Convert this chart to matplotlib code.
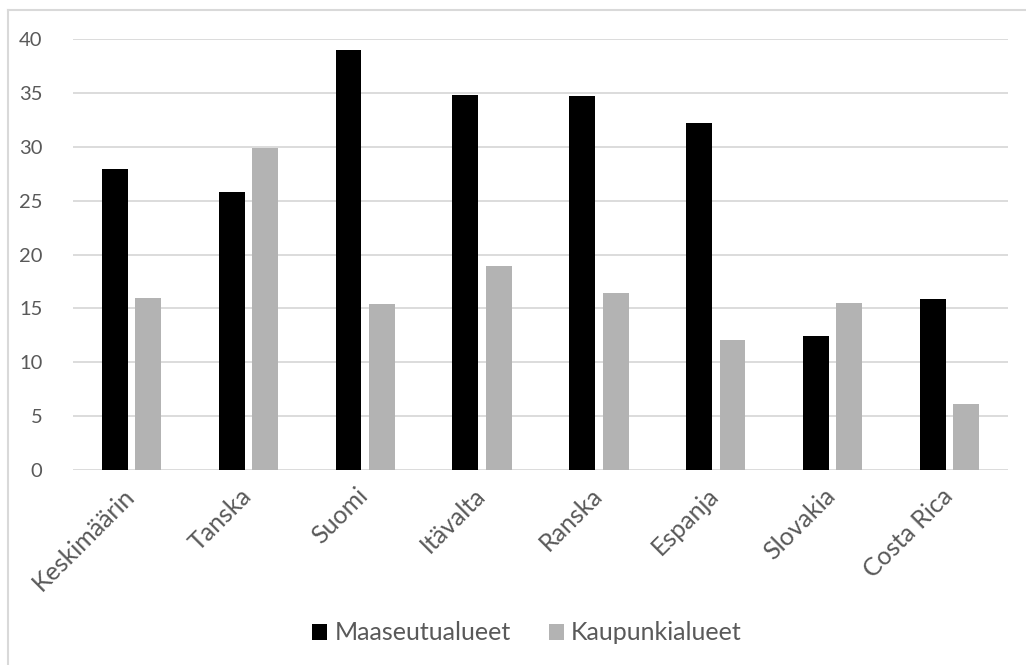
import numpy as np
import matplotlib
matplotlib.use("Agg")
import matplotlib.pyplot as plt
from matplotlib.lines import Line2D
from matplotlib.transforms import ScaledTranslation

plt.rcParams['font.family'] = ['Lato', 'DejaVu Sans']

maat = ["Keskimäärin", "Tanska", "Suomi", "Itävalta", "Ranska", "Espanja", "Slovakia", "Costa Rica"]
maaseutu = [28.0, 25.8, 39.0, 34.85, 34.7, 32.25, 12.4, 15.85]
kaupunki = [16.0, 29.9, 15.4, 18.9, 16.4, 12.1, 15.5, 6.15]
y_ticks = [0, 5, 10, 15, 20, 25, 30, 35, 40]

text_col = "#595959"
grid_col = "#d9d9d9"

fig = plt.figure(figsize=(10.26, 6.65), dpi=100)
ax = fig.add_axes([73 / 1026, 1 - 470 / 665, 935 / 1026, (470 - 39.3) / 665])

x = np.arange(len(maat))
w = 0.222
off = 0.143
ax.bar(x - off, maaseutu, w, color="black", label="Maaseutualueet", zorder=3)
ax.bar(x + off, kaupunki, w, color="#b3b3b3", label="Kaupunkialueet", zorder=3)

ax.set_xlim(-0.5, len(maat) - 0.5)
ax.set_ylim(0, 40)
ax.set_yticks(y_ticks)
ax.yaxis.grid(True, color=grid_col, linewidth=1.3, zorder=0)
ax.set_axisbelow(True)
for s in ax.spines.values():
    s.set_visible(False)

ax.tick_params(axis="y", length=0, pad=22, labelsize=14.5, labelcolor=text_col)
ax.tick_params(axis="x", length=0, pad=10, labelsize=18, labelcolor=text_col)
ax.set_xticks(x)
ax.set_xticklabels(maat, rotation=45, ha="right", rotation_mode="anchor")
shift = ScaledTranslation(-9 / 100, 0, fig.dpi_scale_trans)
for lbl in ax.get_xticklabels():
    lbl.set_transform(lbl.get_transform() + shift)

leg = fig.legend(loc="center", bbox_to_anchor=(527 / 1026, 1 - 633 / 665), ncol=2, frameon=False,
                 fontsize=18, handlelength=0.6, handleheight=0.6, handletextpad=0.3,
                 columnspacing=1.5, labelcolor=text_col)

# chart border
fig.add_artist(Line2D([8 / 1026, 8 / 1026], [0, 1 - 10 / 665], transform=fig.transFigure, color=grid_col, lw=1.5))
fig.add_artist(Line2D([8 / 1026, 1], [1 - 10 / 665, 1 - 10 / 665], transform=fig.transFigure, color=grid_col, lw=1.5))

fig.savefig("out.png", dpi=100)
